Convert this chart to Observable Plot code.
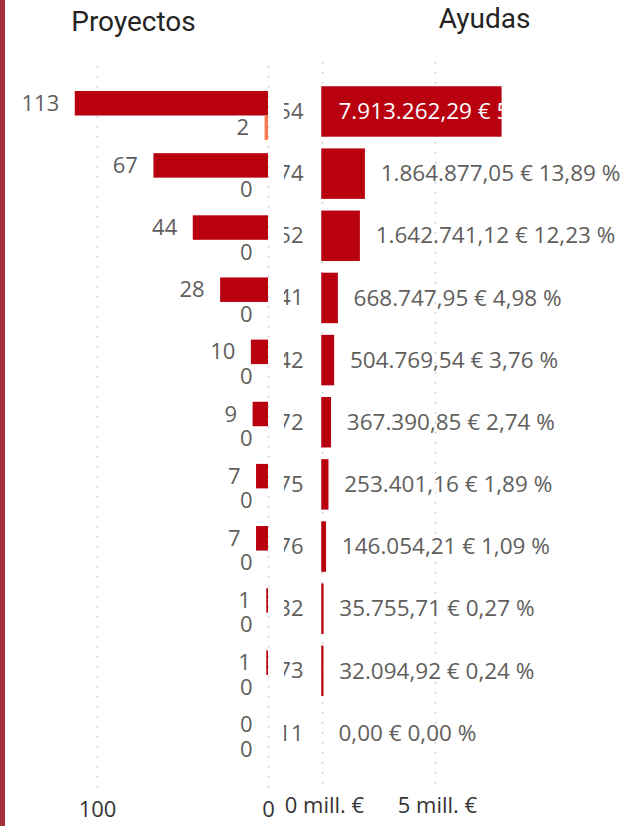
<!DOCTYPE html>
<html><head><meta charset="utf-8">
<script src="https://cdn.jsdelivr.net/npm/d3@7"></script>
<script src="https://cdn.jsdelivr.net/npm/@observablehq/plot@0.6"></script>
<style>
html,body{margin:0;padding:0;background:#fff;}
#root{position:relative;width:623px;height:826px;overflow:hidden;font-family:"Open Sans",sans-serif;}
#border{position:absolute;left:0;top:0;width:4.5px;height:826px;background:#a52f3a;z-index:2;}
.title{position:absolute;font-family:Roboto,sans-serif;font-size:28px;color:#252423;line-height:28px;white-space:nowrap;transform:translateX(-50%);}
#left{position:absolute;left:0;top:0;width:284px;height:826px;}
#right{position:absolute;left:284px;top:-4px;width:339px;height:830px;overflow:hidden;}
svg{overflow:hidden;}
</style></head>
<body><div id="root">
<div id="border"></div>
<div class="title" style="left:133.5px;top:8px;">Proyectos</div>
<div class="title" style="left:484.5px;top:4.5px;">Ayudas</div>
<div id="left"></div>
<div id="right"></div>
</div>
<script>
const categories = ["54","74","52","41","42","72","75","76","32","73","11"];
const proyectos = [113, 67, 44, 28, 10, 9, 7, 7, 1, 1, 0];
const proyectosB = [2, 0, 0, 0, 0, 0, 0, 0, 0, 0, 0];
const ayudas = [7913262.29, 1864877.05, 1642741.12, 668747.95, 504769.54, 367390.85, 253401.16, 146054.21, 35755.71, 32094.92, 0.00];
const ayudasPct = [58.93, 13.89, 12.23, 4.98, 3.76, 2.74, 1.89, 1.09, 0.27, 0.24, 0.00];
const leftTicks = [100, 0];
const rightTicks = [0, 5000000];

const RED = "#b8000f", ORANGE = "#fd7a4f", GRAY = "#605e5c", DARK = "#333333";
const H = 826, MT = 66, MB = 37;
const PI = 0.212, PO = 0.4225, ALIGN = 0.476;
const frameH = H - MT - MB;
const step = frameH / (categories.length - PI + 2 * PO);
const bw = step * (1 - PI);
const half = bw / 2;

const locale = d3.formatLocale({decimal: ",", thousands: ".", grouping: [3], currency: ["", ""]});
const fmt2 = locale.format(",.2f");

const leftData = categories.map((c, i) => ({cat: c, a: proyectos[i], b: proyectosB[i]}));
const rightData = categories.map((c, i) => ({cat: c, v: ayudas[i], p: ayudasPct[i]}));
const label = d => `${fmt2(d.v)} € ${fmt2(d.p)} %`;

const grid = {stroke: "#c4c4c4", strokeWidth: 1.5, strokeDasharray: "1.5,8.5"};
const yBand = {domain: categories, paddingInner: PI, paddingOuter: PO, align: ALIGN, round: false};

const left = Plot.plot({
  width: 284, height: H, marginTop: MT, marginBottom: MB, marginLeft: 5, marginRight: 16,
  style: {fontFamily: "'Open Sans', sans-serif", fontSize: "22px", color: DARK, background: "transparent", overflow: "visible"},
  x: {domain: [0, 263 / 1.71], reverse: true, ticks: leftTicks, tickSize: 0, tickPadding: 12, tickFormat: d => String(d), label: null},
  y: {...yBand, axis: null},
  marks: [
    Plot.ruleX(leftTicks, grid),
    Plot.barX(leftData, {x: "a", y: "cat", fill: RED, insetBottom: half}),
    Plot.barX(leftData, {x: "b", y: "cat", fill: ORANGE, insetTop: half}),
    Plot.text(leftData, {x: "a", y: "cat", text: d => String(d.a), textAnchor: "end", dx: -16, dy: -half / 2, fill: GRAY, fontSize: 22}),
    Plot.text(leftData, {x: "b", y: "cat", text: d => String(d.b), textAnchor: "end", dx: -16, dy: half / 2, fill: GRAY, fontSize: 22})
  ]
});
document.getElementById("left").appendChild(left);

const rightW = 339, rML = 38;
const rightMax = (rightW - rML) / 113 * 5000000;
const inside = d => d.v / rightMax > 0.5;
const right = Plot.plot({
  width: rightW, height: H, marginTop: MT, marginBottom: MB, marginLeft: rML, marginRight: 0,
  style: {fontFamily: "'Open Sans', sans-serif", fontSize: "22px", color: DARK, background: "transparent", overflow: "visible"},
  x: {domain: [0, rightMax], axis: null},
  y: {...yBand, axis: null},
  marks: [
    Plot.ruleX(rightTicks, grid),
    Plot.axisX(rightTicks, {tickSize: 0, tickPadding: 12, dx: 2, tickFormat: d => `${d / 1e6} mill. €`, label: null, fill: DARK}),
    Plot.axisY({tickSize: 0, tickPadding: 19, label: null, fill: GRAY, fontSize: 22}),
    Plot.barX(rightData.filter(d => d.v > 0), {x: "v", y: "cat", fill: RED, stroke: RED, strokeWidth: 1.5}),
    Plot.text(rightData.filter(inside), {x: () => 0, y: "cat", text: label, textAnchor: "start", dx: 16, fill: "white", fontSize: 22.5}),
    Plot.text(rightData.filter(d => !inside(d)), {x: "v", y: "cat", text: label, textAnchor: "start", dx: 16, fill: GRAY, fontSize: 22.5})
  ]
});
document.getElementById("right").appendChild(right);
</script>
</body></html>
